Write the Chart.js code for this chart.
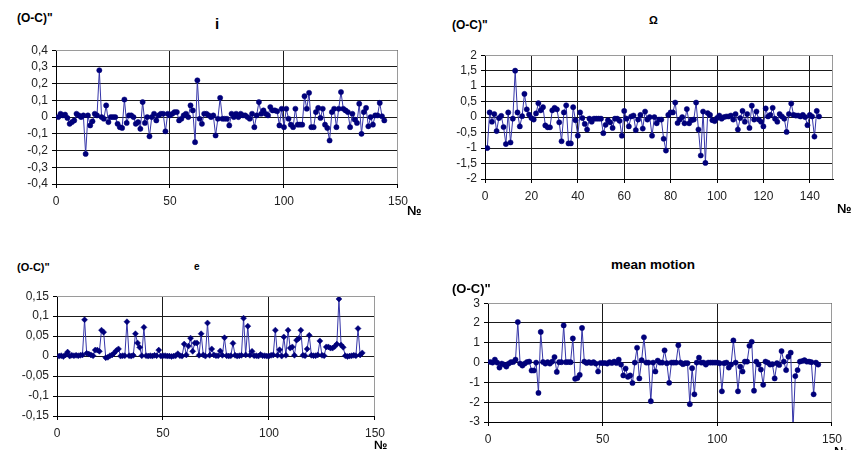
<!DOCTYPE html>
<html><head><meta charset="utf-8">
<script src="https://cdn.jsdelivr.net/npm/chart.js@4.4.1/dist/chart.umd.min.js"></script>
<style>
body{margin:0;background:#fff;width:852px;height:450px;overflow:hidden;position:relative;font-family:"Liberation Sans",Arial,sans-serif;}
canvas{position:absolute;}
.t{position:absolute;color:#000;white-space:nowrap;line-height:1;font-weight:bold;}
</style></head><body>
<canvas id="c1"></canvas>
<canvas id="c2"></canvas>
<canvas id="c3"></canvas>
<canvas id="c4"></canvas>

<div class="t" style="left:17px;top:12px;font-size:12px;">(O-C)"</div>
<div class="t" style="left:215px;top:16px;font-size:15px;">i</div>
<div class="t" style="left:407px;top:204px;font-size:13px;">№</div>

<div class="t" style="left:452px;top:19px;font-size:12px;">(O-C)"</div>
<div class="t" style="left:649px;top:15px;font-size:11px;">Ω</div>
<div class="t" style="left:837px;top:202px;font-size:13px;">№</div>

<div class="t" style="left:17px;top:262px;font-size:11px;">(O-C)"</div>
<div class="t" style="left:194px;top:262px;font-size:10px;">e</div>
<div class="t" style="left:374px;top:439px;font-size:12px;">№</div>

<div class="t" style="left:611px;top:258px;font-size:13.5px;">mean motion</div>
<div class="t" style="left:452px;top:282px;font-size:13px;">(O-C)"</div>
<div class="t" style="left:834px;top:445px;font-size:13px;">№</div>

<script>
// ---- data: (O-C) residuals per observation number ----
const incl = [
 0.00, 0.02, 0.01, 0.015, -0.005, -0.04, -0.03, -0.02, 0.02, 0.01,
 0.00, 0.01, -0.22, 0.01, -0.05, -0.025, 0.02, 0.01, 0.28, 0.00,
 -0.01, 0.07, -0.03, 0.00, 0.00, 0.00, -0.04, -0.06, -0.065, 0.105,
 -0.035, 0.01, 0.01, 0.00, -0.04, -0.03, -0.07, 0.09, -0.035, 0.00,
 -0.115, 0.00, 0.02, -0.02, 0.01, 0.02, 0.02, -0.085, 0.02, 0.01,
 0.02, 0.03, 0.03, -0.02, -0.01, 0.01, 0.02, 0.00, 0.07, 0.04,
 -0.15, 0.22, -0.01, -0.04, 0.02, 0.02, 0.01, 0.00, 0.01, -0.11,
 -0.01, 0.115, -0.01, -0.01, -0.01, -0.05, 0.02, 0.00, 0.02, 0.00,
 0.02, 0.01, 0.01, 0.00, -0.01, 0.02, -0.06, 0.01, 0.09, 0.02,
 0.04, 0.02, 0.01, 0.06, 0.04, 0.04, 0.035, -0.05, 0.05, -0.06,
 0.05, -0.01, -0.045, -0.06, 0.05, -0.045, -0.045, -0.045, 0.125, 0.05,
 0.145, -0.06, -0.06, 0.03, 0.055, -0.005, 0.05, -0.045, -0.065, -0.14,
 0.03, 0.05, -0.06, 0.05, 0.15, 0.05, 0.04, 0.03, -0.06, 0.02,
 -0.015, -0.035, 0.08, -0.10, 0.03, 0.055, -0.055, 0.00, -0.045, 0.01,
 0.01, 0.085, 0.005, -0.02
];
const node = [
 -1.0, 0.15, -0.15, 0.1, -0.45, -0.03, 0.04, -0.32, -0.87, 0.15,
 -0.82, -0.05, 1.5, 0.15, -0.3, 0.03, 0.75, 0.25, 0.08, -0.03,
 -0.08, 0.12, 0.45, 0.22, 0.32, -0.27, -0.33, -0.33, 0.22, 0.3,
 0.25, -0.17, -0.78, 0.15, 0.38, -0.85, -0.85, 0.32, -0.1, -0.6,
 0.15, -0.03, -0.22, -0.4, -0.05, -0.15, -0.05, -0.05, -0.05, -0.05,
 -0.52, -0.25, -0.1, -0.17, -0.35, -0.05, -0.05, -0.12, -0.6, 0.2,
 -0.05, -0.3, 0.02, 0.05, -0.42, -0.08, 0.07, -0.37, 0.18, -0.08,
 0, -0.6, 0, -0.2, -0.08, -0.08, -0.7, -1.08, 0.07, 0.15,
 0.15, 0.47, -0.19, -0.08, 0, -0.2, 0.26, -0.2, -0.1, -0.08,
 0.47, -0.4, -1.24, 0.18, -1.48, 0.13, 0.07, -0.1, -0.13, -0.03,
 0.05, -0.05, 0, 0.02, 0.02, 0.05, -0.08, 0.1, -0.4, -0.03,
 0.2, -0.15, 0.1, -0.35, 0.37, -0.08, 0.18, -0.08, -0.15, -0.3,
 0.28, 0.02, 0.07, 0.3, -0.05, -0.15, 0.1, 0.02, -0.05, -0.48,
 0.1, 0.44, 0.07, 0.05, 0.05, 0.02, 0.07, 0, -0.26, 0.07,
 0.02, -0.63, 0.2, 0.02
];
const ecc = [
 0.000, 0.001, -0.001, 0.003, 0.010, 0.000, 0.002, 0.001, 0.002, 0.001,
 0.002, 0.003, 0.091, 0.007, 0.005, 0.003, 0.001, 0.015, 0.015, 0.012,
 0.065, 0.060, -0.004, -0.003, 0.001, 0.003, 0.008, 0.014, 0.018, 0.000,
 0.001, 0.001, 0.086, 0.001, 0.000, 0.002, 0.056, 0.033, 0.022, 0.001,
 0.072, 0.001, 0.000, 0.001, 0.000, 0.002, 0.001, 0.015, 0.000, 0.001,
 0.001, 0.000, 0.000, -0.001, 0.000, 0.001, 0.006, 0.001, 0.000, 0.030,
 0.003, 0.025, 0.045, 0.012, 0.033, 0.033, 0.002, 0.056, 0.003, 0.000,
 0.083, 0.002, 0.018, 0.003, 0.001, 0.001, 0.013, 0.002, 0.046, 0.001,
 0.000, 0.001, 0.032, 0.002, 0.000, 0.001, 0.002, 0.095, 0.003, 0.075,
 0.002, 0.012, 0.001, 0.001, 0.000, 0.004, 0.001, 0.001, 0.000, 0.000,
 0.002, 0.003, 0.065, 0.002, 0.016, 0.000, 0.048, 0.002, 0.065, 0.020,
 0.023, 0.002, 0.040, 0.044, 0.065, 0.002, 0.001, 0.018, 0.052, 0.002,
 0.001, 0.001, 0.003, 0.038, 0.002, 0.001, 0.023, 0.023, 0.020, 0.020,
 0.024, 0.030, 0.143, 0.028, 0.022, 0.001, -0.001, 0.000, 0.001, 0.002,
 0.001, 0.069, 0.003, 0.008
];
const meanMotion = [
 0.03, 0.0, 0.15, 0.0, -0.25, -0.05, -0.1, -0.2, -0.05, 0.02,
 0.03, 0.15, 2.05, -0.05, -0.15, -0.05, 0.03, 0.05, -0.4, -0.4,
 0.0, -1.53, 1.55, 0.03, -0.05, 0.02, -0.05, 0.05, 0.28, -0.47,
 0.02, 0.02, 1.88, 0.02, 0.03, 0.02, 1.22, -0.82, -0.78, -0.62,
 1.75, 0.05, -0.02, 0.02, -0.02, 0.02, -0.05, -0.45, -0.02, -0.02,
 -0.02, -0.05, 0.02, -0.02, 0.05, -0.02, 0.15, -0.1, -0.65, -0.3,
 -0.72, -0.65, -1.03, 0.0, 0.75, -0.8, 0.12, 1.28, 0.0, 0.0,
 -1.95, 0.0, -0.45, 0.1, 0.0, 0.0, 0.62, -0.03, -1.02, 0.0,
 0.0, 0.0, 0.88, 0.0, -0.08, -0.03, -0.03, -2.1, -0.28, -1.6,
 0.0, 0.25, 0.0, 0.0, -0.1, 0.0, 0.0, 0.0, 0.0, 0.0,
 -0.03, -1.45, -0.03, 0.0, -0.25, -0.1, 1.12, 0.0, -1.45, -0.2,
 -0.45, 0.05, 0.05, 0.85, 1.05, -1.42, 0.05, -0.1, -0.35, -1.12,
 0.05, 0.0, -0.1, -0.08, -0.8, -0.03, -0.12, 0.58, 0.05, -0.38,
 0.3, 0.5, -3.3, -0.68, -0.38, 0.05, 0.08, 0.12, 0.05, 0.05,
 0.02, -1.6, 0.0, -0.1
];

// ---- tick labels ----
const xTicks50 = ['0', '50', '100', '150'];
const xTicks20 = ['0', '20', '40', '60', '80', '100', '120', '140'];
const yTicksI = ['0,4','0,3','0,2','0,1','0','-0,1','-0,2','-0,3','-0,4'];
const yTicksNode = ['2','1,5','1','0,5','0','-0,5','-1','-1,5','-2'];
const yTicksE = ['0,15','0,1','0,05','0','-0,05','-0,1','-0,15'];
const yTicksMM = ['3','2','1','0','-1','-2','-3'];

// ---- drawing ----
Chart.defaults.font.family = '"Liberation Sans", Arial, sans-serif';
Chart.defaults.font.size = 12;
Chart.defaults.color = '#222';

const num = s => parseFloat(s.replace(',', '.'));

const frame = {
  id: 'frame',
  afterDraw(chart) {
    const a = chart.chartArea, ctx = chart.ctx;
    ctx.save();
    ctx.strokeStyle = '#9a9a9a';
    ctx.lineWidth = 1;
    const t = Math.round(a.top) + 0.5, r = Math.round(a.right) - 0.5;
    ctx.beginPath();
    ctx.moveTo(Math.round(a.left), t); ctx.lineTo(r, t); ctx.lineTo(r, Math.round(a.bottom));
    ctx.stroke();
    ctx.restore();
  }
};

function makeChart(id, area, values, xLab, xMax, yLab, pointStyle) {
  const yW = 40, padT = 8, padR = 12, xH = 24, padB = 2;
  const left = area.L - yW, top = area.T - padT;
  const w = area.R + padR - left, h = area.B + xH + padB - top;
  const cv = document.getElementById(id);
  cv.width = w; cv.height = h;
  cv.style.left = left + 'px'; cv.style.top = top + 'px';
  cv.style.width = w + 'px'; cv.style.height = h + 'px';
  const xv = xLab.map(num), yv = yLab.map(num);
  const pts = values.map((v, k) => ({ x: k + 1, y: v }));
  const yMin = Math.min(...yv), yMax = Math.max(...yv);
  new Chart(cv, {
    type: 'line',
    data: { datasets: [{
      data: pts,
      borderColor: '#3535a8',
      borderWidth: 1,
      pointStyle: pointStyle,
      pointRadius: pointStyle === 'circle' ? 2.6 : 3,
      pointBackgroundColor: '#00007a',
      pointBorderColor: '#00007a',
      pointBorderWidth: 0.5,
      tension: 0
    }]},
    options: {
      responsive: false,
      animation: false,
      devicePixelRatio: 1,
      layout: { padding: { left: 0, top: padT, right: padR, bottom: padB } },
      plugins: { legend: { display: false }, tooltip: { enabled: false } },
      scales: {
        x: {
          type: 'linear', min: 0, max: xMax,
          afterBuildTicks: s => { s.ticks = xv.map(v => ({ value: v })); },
          afterFit: s => { s.height = xH; },
          ticks: { autoSkip: false, maxRotation: 0, padding: 6, color: '#222',
                   callback: (v) => xLab[xv.indexOf(v)] },
          grid: { color: '#1a1a1a', lineWidth: 1, tickLength: 4, tickColor: '#000' },
          border: { display: true, color: '#000', width: 1 }
        },
        y: {
          type: 'linear', min: yMin, max: yMax,
          afterBuildTicks: s => { s.ticks = yv.map(v => ({ value: v })); },
          afterFit: s => { s.width = yW; },
          ticks: { autoSkip: false, padding: 4, color: '#222',
                   callback: (v) => yLab[yv.indexOf(v)] },
          grid: { color: '#1a1a1a', lineWidth: 1, tickLength: 4, tickColor: '#000' },
          border: { display: true, color: '#000', width: 1 }
        }
      }
    },
    plugins: [frame]
  });
}

makeChart('c1', { L: 56, T: 47, R: 402, B: 184 }, incl, xTicks50, 150, yTicksI, 'circle');
makeChart('c2', { L: 485, T: 52, R: 833, B: 179 }, node, xTicks20, 150, yTicksNode, 'circle');
makeChart('c3', { L: 57, T: 293, R: 379, B: 416 }, ecc, xTicks50, 150, yTicksE, 'rectRot');
makeChart('c4', { L: 488, T: 300, R: 836, B: 422 }, meanMotion, xTicks50, 150, yTicksMM, 'circle');
</script>
</body></html>
